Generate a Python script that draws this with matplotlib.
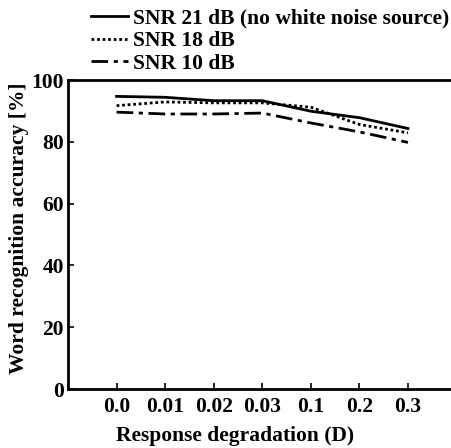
import matplotlib
matplotlib.use("Agg")
import matplotlib.pyplot as plt
import numpy as np

categories = ["0.0", "0.01", "0.02", "0.03", "0.1", "0.2", "0.3"]
snr21 = [94.7, 94.4, 93.3, 93.3, 89.9, 87.8, 84.3]
snr18 = [91.7, 92.9, 92.6, 92.6, 91.2, 85.6, 82.9]
snr10 = [89.6, 89.0, 89.0, 89.3, 86.1, 83.2, 79.8]
labels = ["SNR 21 dB (no white noise source)", "SNR 18 dB", "SNR 10 dB"]
yticks = [0, 20, 40, 60, 80, 100]

plt.rcParams['font.family'] = ['Liberation Serif', 'DejaVu Serif']
plt.rcParams['font.weight'] = 'bold'

fig = plt.figure(figsize=(4.51, 4.48), dpi=100)
ax_left, ax_bottom, ax_top = 68, 389, 80
ax = fig.add_axes([ax_left/451, 1-ax_bottom/448, (451-ax_left)/451 + 0.05, (ax_bottom-ax_top)/448])

x = np.arange(len(categories))
l1, = ax.plot(x, snr21, color='black', lw=2.0, ls='-')
l2, = ax.plot(x, snr18, color='black', lw=2.0, ls=(0, (1, 1)))
l3, = ax.plot(x, snr10, color='black', lw=2.0, ls=(0, (6, 2, 1.5, 2)))

ax.set_xlim(-1, 7.35)
ax.set_ylim(0, 100)
ax.set_xticks(x)
ax.set_xticklabels(categories, fontsize=15.5, fontweight='bold')
ax.set_yticks(yticks)
ax.set_yticklabels([str(v) for v in yticks], fontsize=15.5, fontweight='bold')
ax.tick_params(axis='both', direction='in', length=4, width=1.2)
ax.tick_params(axis='x', pad=6)
ax.tick_params(axis='y', pad=3)
for s in ['left', 'bottom', 'top']:
    ax.spines[s].set_linewidth(2.0)
ax.spines['right'].set_visible(False)

fig.text(235/451, 1-441/448, "Response degradation (D)", fontsize=15.5, fontweight='bold',
         ha='center', va='baseline')
fig.text(19/451, 1-228/448, "Word recognition accuracy [%]", fontsize=15.5, fontweight='bold',
         ha='center', va='center', rotation=90)

fig.legend([l1, l2, l3], labels, loc='upper left', bbox_to_anchor=(78/451, 1.01),
           frameon=False, prop={'weight': 'bold', 'size': 15.5},
           handlelength=1.7, handletextpad=0.25, labelspacing=0.12, borderaxespad=0.2)

fig.savefig("out.png", dpi=100)
